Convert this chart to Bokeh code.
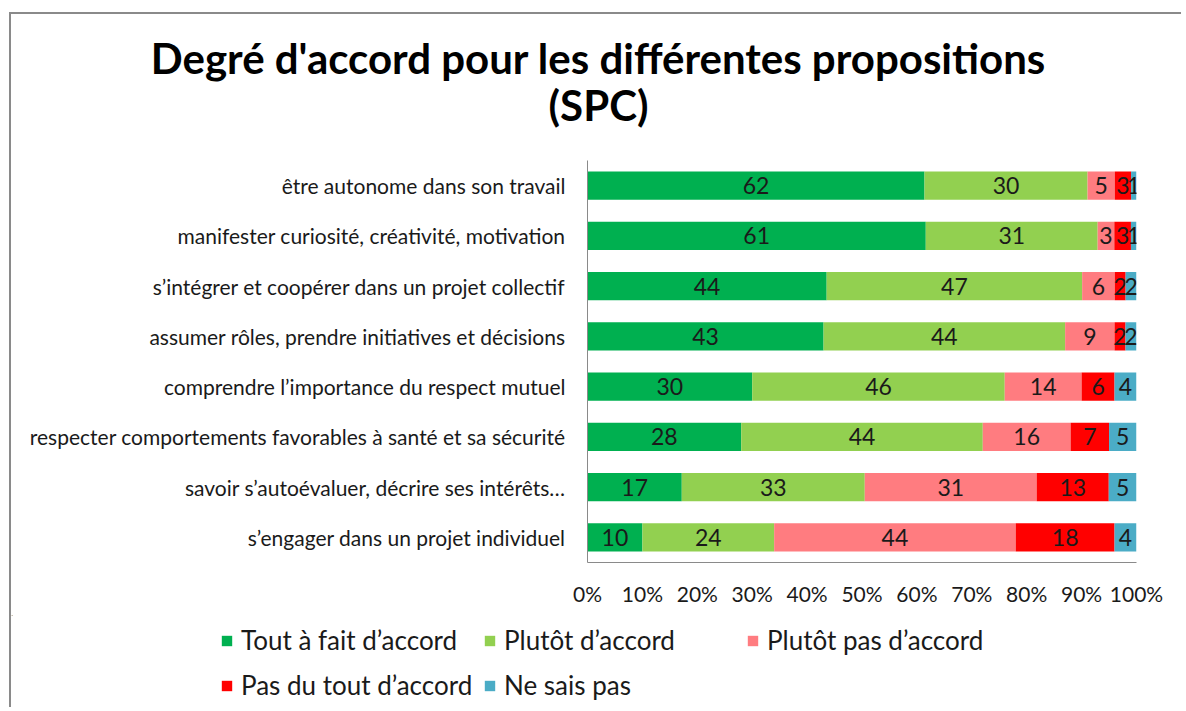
from bokeh.plotting import figure
from bokeh.layouts import column
from bokeh.models import (ColumnDataSource, FactorRange, Range1d, FixedTicker,
                          NumeralTickFormatter, Legend, LegendItem)
from bokeh.embed import file_html
from bokeh.resources import INLINE
from bokeh.core.properties import value

# ---------------- data ----------------
categories = [
    "être autonome dans son travail",
    "manifester curiosité, créativité, motivation",
    "s’intégrer et coopérer dans un projet collectif",
    "assumer rôles, prendre initiatives et décisions",
    "comprendre l’importance du respect mutuel",
    "respecter comportements favorables à santé et sa sécurité",
    "savoir s’autoévaluer, décrire ses intérêts…",
    "s’engager dans un projet individuel",
]
tout_a_fait = [62, 61, 44, 43, 30, 28, 17, 10]
plutot = [30, 31, 47, 44, 46, 44, 33, 24]
plutot_pas = [5, 3, 6, 9, 14, 16, 31, 44]
pas_du_tout = [3, 3, 2, 2, 6, 7, 13, 18]
ne_sais_pas = [1, 1, 2, 2, 4, 5, 5, 4]

series_names = ["Tout à fait d’accord", "Plutôt d’accord", "Plutôt pas d’accord",
                "Pas du tout d’accord", "Ne sais pas"]
series_values = [tout_a_fait, plutot, plutot_pas, pas_du_tout, ne_sais_pas]
colors = ["#00B050", "#92D050", "#FF7C80", "#FF0000", "#4BACC6"]
x_ticks = [0, 0.1, 0.2, 0.3, 0.4, 0.5, 0.6, 0.7, 0.8, 0.9, 1.0]
title_lines = ["Degré d'accord pour les différentes propositions", "(SPC)"]

FONT = "Lato"
TXT = "#1a1a1a"
OX, OY = 11, 14          # content origin inside the bordered chart area
W = 1170

# ---------------- title strip ----------------
TH = 136
tf = figure(width=W, height=TH, output_backend="svg", toolbar_location=None,
            x_range=Range1d(0, W), y_range=Range1d(TH, 0),
            x_axis_type=None, y_axis_type=None, frame_align=False,
            min_border_left=0, min_border_right=0, min_border_top=0, min_border_bottom=0)
tf.outline_line_color = None
tf.text(x=[598 - OX, 598 - OX], y=[57 - OY, 104 - OY], text=title_lines,
        text_align="center", text_baseline="middle", text_font=value(FONT),
        text_font_style="bold", text_font_size="42px", text_color="#000000")

# ---------------- main chart ----------------
MH = 465
p = figure(width=W, height=MH, output_backend="svg", toolbar_location=None,
           y_range=FactorRange(factors=list(reversed(categories))),
           x_range=Range1d(0, 1), frame_align=False,
           min_border_left=576, min_border_right=45, min_border_top=10, min_border_bottom=53)
p.outline_line_color = None
p.xgrid.visible = False
p.ygrid.visible = False

totals = [sum(s[i] for s in series_values) for i in range(len(categories))]
cum = [0.0] * len(categories)
for name, vals, col in zip(series_names, series_values, colors):
    left = list(cum)
    right = [cum[i] + vals[i] / totals[i] for i in range(len(categories))]
    cum = right
    src = ColumnDataSource(dict(y=categories, left=left, right=right,
                                mid=[(a + b) / 2 for a, b in zip(left, right)],
                                txt=[str(v) for v in vals]))
    p.hbar(y="y", left="left", right="right", height=0.56, source=src,
           fill_color=col, line_color=None)
    p.text(x="mid", y="y", text="txt", source=src, text_align="center",
           text_baseline="middle", text_font=value(FONT), text_font_size="23px",
           text_color=TXT)

p.xaxis.ticker = FixedTicker(ticks=x_ticks)
p.xaxis.formatter = NumeralTickFormatter(format="0%")
p.xaxis.major_tick_line_color = None
p.xaxis.minor_tick_line_color = None
p.xaxis.axis_line_color = "#8a8a8a"
p.xaxis.major_label_standoff = 12
p.xaxis.major_label_text_font = FONT
p.xaxis.major_label_text_font_size = "21px"
p.xaxis.major_label_text_color = TXT

p.yaxis.major_tick_line_color = None
p.yaxis.minor_tick_line_color = None
p.yaxis.axis_line_color = "#8a8a8a"
p.yaxis.major_label_standoff = 16
p.yaxis.major_label_text_font = FONT
p.yaxis.major_label_text_font_size = "21px"
p.yaxis.major_label_text_color = TXT

# ---------------- legend strip ----------------
LH = 92
LY0 = 615
lf = figure(width=W, height=LH, output_backend="svg", toolbar_location=None,
            x_range=Range1d(0, W), y_range=Range1d(LH, 0),
            x_axis_type=None, y_axis_type=None, frame_align=False,
            min_border_left=0, min_border_right=0, min_border_top=0, min_border_bottom=0)
lf.outline_line_color = None
leg_pos = [(220, 642), (483, 642), (746, 642), (220, 687), (483, 687)]
ITEM_H = 28
for (px, py), name, col in zip(leg_pos, series_names, colors):
    # keyed swatch renderer, placed outside the visible range
    r = lf.hbar(y=[-1000], left=[0], right=[1], height=0.5, fill_color=col, line_color=None)
    leg = Legend(items=[LegendItem(label=name, renderers=[r])],
                 location=(px - OX, LH - ((py - LY0) + ITEM_H / 2)),
                 orientation="horizontal",
                 glyph_width=13, glyph_height=13, label_standoff=8, padding=0, margin=0,
                 spacing=0, label_height=ITEM_H, border_line_color=None,
                 background_fill_alpha=0,
                 label_text_font=FONT, label_text_font_size="26px", label_text_color=TXT)
    lf.add_layout(leg)

layout = column(tf, p, lf, spacing=0,
                styles={"border-left": "2px solid #8a8a8a", "border-top": "2px solid #8a8a8a",
                        "margin-left": "9px", "margin-top": "12px"})

open("out.html", "w").write(file_html(layout, INLINE))
